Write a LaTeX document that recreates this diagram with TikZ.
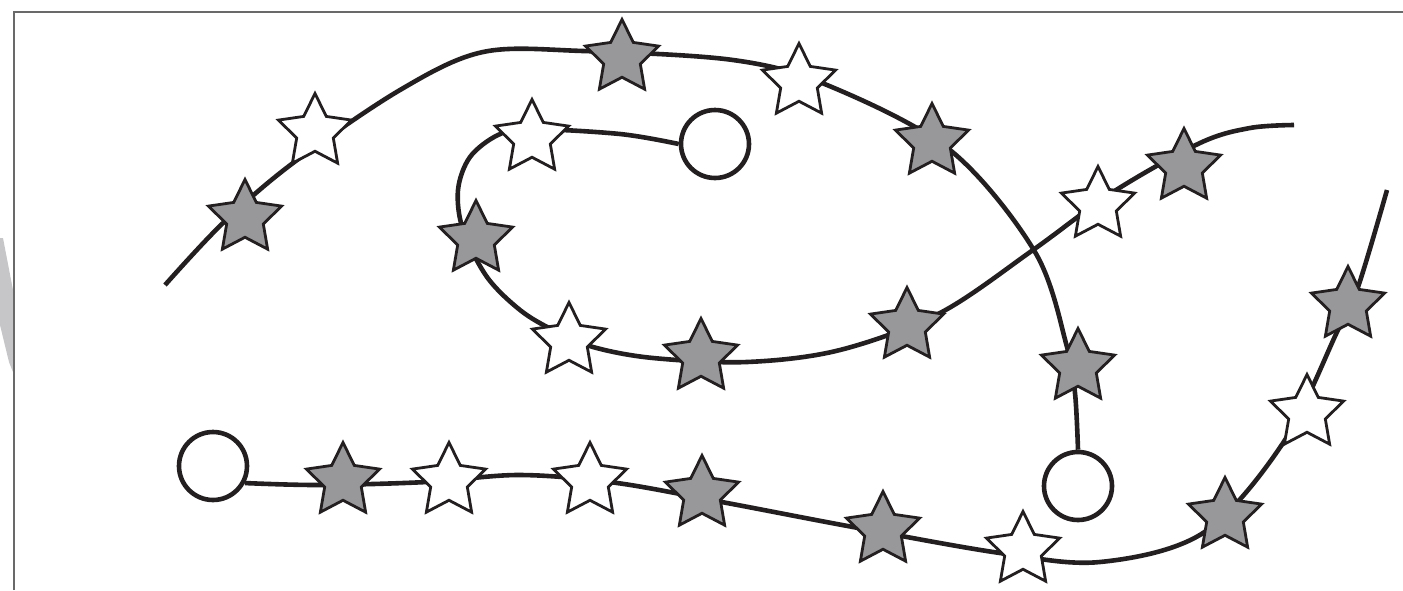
\documentclass[tikz,border=0pt]{standalone}
\usetikzlibrary{shapes.geometric}
\definecolor{inkBlack}{RGB}{35,31,32}
\definecolor{greyStar}{RGB}{152,152,155}
\definecolor{frameGrey}{RGB}{105,105,105}
\definecolor{bandGrey}{RGB}{198,198,201}

\begin{document}
\begin{tikzpicture}[x=1pt, y=-1pt,
    curve/.style={draw=inkBlack, line width=4.6pt},
    endpoint/.style={circle, draw=inkBlack, line width=4.6pt, fill=white, minimum size=68pt, inner sep=0pt},
    starbox/.style={star, star points=5, star point ratio=2, draw=inkBlack, line width=2.8pt, minimum size=77pt, inner sep=0pt},
    fullstar/.style={starbox, fill=greyStar},
    openstar/.style={starbox, fill=white}
]
\useasboundingbox (0,0) rectangle (1403,590);

% frame and the cut-off band on the left
\fill[bandGrey] (0,238) -- (3,238) -- (13,290) -- (13,372) -- (9,362) -- (0,325) -- cycle;
\draw[frameGrey, line width=1.4pt] (14,590) -- (14,12) -- (1403,12);

% end circles
\node[endpoint] (endA) at (1078,486) {};
\node[endpoint] (endB) at (715,144) {};
\node[endpoint] (endC) at (213,466) {};

% the three paths
\draw[curve] plot[smooth, tension=0.55] coordinates {(165,285) (223,223) (293,163) (400,90) (483,52) (583,51) (733,60) (827,85) (950,150) (1035,252) (1067,347) (1075,393) (endA.north)};
\draw[curve] plot[smooth, tension=0.55] coordinates {(endB.west) (620,134) (530,129) (498,135) (470,157) (458,190) (463,230) (487,277) (520,310) (553,330) (593,347) (653,358) (747,362) (840,350) (940,313) (1033,250) (1113,192) (1200,143) (1250,128) (1294,125)};
\draw[curve] plot[smooth, tension=0.55] coordinates {(endC.-28) (320,485) (427,482) (520,475) (617,483) (727,503) (853,527) (1000,553) (1100,562) (1203,533) (1283,443) (1337,332) (1358,287) (1387,190)};

% stars on the outer path
\node[fullstar] (starA1) at (245,218) {};
\node[openstar] (starA2) at (315,132) {};
\node[fullstar] (starA3) at (622,58) {};
\node[openstar] (starA4) at (799,82) {};
\node[fullstar] (starA5) at (932,142) {};
\node[fullstar] (starA6) at (1078,367) {};

% stars on the inner path
\node[openstar] (starB1) at (532,138) {};
\node[fullstar] (starB2) at (476,239) {};
\node[openstar] (starB3) at (569,341) {};
\node[fullstar] (starB4) at (701,357) {};
\node[fullstar] (starB5) at (907,326) {};
\node[openstar] (starB6) at (1098,205) {};
\node[fullstar] (starB7) at (1184,167) {};

% stars on the lower path
\node[fullstar] (starC1) at (343,481) {};
\node[openstar] (starC2) at (449,481) {};
\node[openstar] (starC3) at (590,481) {};
\node[fullstar] (starC4) at (702,494) {};
\node[fullstar] (starC5) at (883,530) {};
\node[openstar] (starC6) at (1023,550) {};
\node[fullstar] (starC7) at (1225,516) {};
\node[openstar] (starC8) at (1307,413) {};
\node[fullstar] (starC9) at (1348,305) {};
\end{tikzpicture}
\end{document}
